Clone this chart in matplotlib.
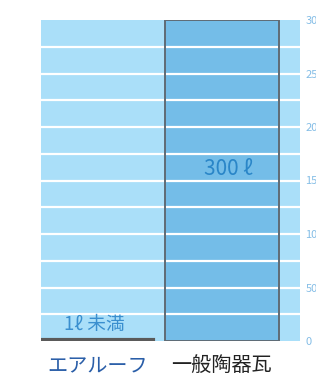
import matplotlib
matplotlib.use("Agg")
import matplotlib.pyplot as plt
import numpy as np

plt.rcParams['font.family'] = ['Noto Sans CJK JP', 'DejaVu Sans']

categories = ["エアルーフ", "一般陶器瓦"]
values = [1, 300]
value_labels = ["1ℓ 未満", "300 ℓ"]
yticks_major = [0, 50, 100, 150, 200, 250, 300]
ygrid = [25, 50, 75, 100, 125, 150, 175, 200, 225, 250, 275]

fig = plt.figure(figsize=(3.16, 3.77), dpi=100)
ax = fig.add_axes([41/316, 36/377, 259/316, 321/377])
ax.set_facecolor('#aadff9')

x = np.arange(len(categories))
# bar fill
ax.bar(x[1], values[1], width=0.92, color='#74bde8', edgecolor='none', zorder=1)
# grid lines over fills
for g in ygrid:
    ax.axhline(g, color='white', lw=1.6, zorder=2)
# outlines
ax.bar(x[1], values[1], width=0.92, color='none', edgecolor='#5f6b75',
       linewidth=1.4, zorder=3)
ax.bar(x[0] - 0.01, values[0], width=0.91, color='#5a5a5a', edgecolor='#5a5a5a',
       linewidth=3, zorder=3)

ax.text(x[0] - 0.03, 15, value_labels[0], ha='center', va='center',
        fontsize=13.5, color='#3a8fcf', zorder=4)
ax.text(x[1] + 0.05, 161, value_labels[1], ha='center', va='center',
        fontsize=15, color='#2a86c8', zorder=4)

ax.set_xlim(-0.46, 1.63)
ax.set_ylim(0, 300)
ax.set_xticks(x)
ax.set_xticklabels(categories, fontsize=14.5)
ax.get_xticklabels()[0].set_color('#2a5ea8')
ax.get_xticklabels()[1].set_color('#222222')
ax.tick_params(axis='x', length=0, pad=10)

ax.set_yticks(yticks_major)
ax.set_yticklabels([str(v) for v in yticks_major])
ax.yaxis.tick_right()
ax.tick_params(axis='y', length=0, pad=4, labelsize=8, labelcolor='#84bde6')
for s in ax.spines.values():
    s.set_visible(False)

fig.savefig('out.png', dpi=100)
